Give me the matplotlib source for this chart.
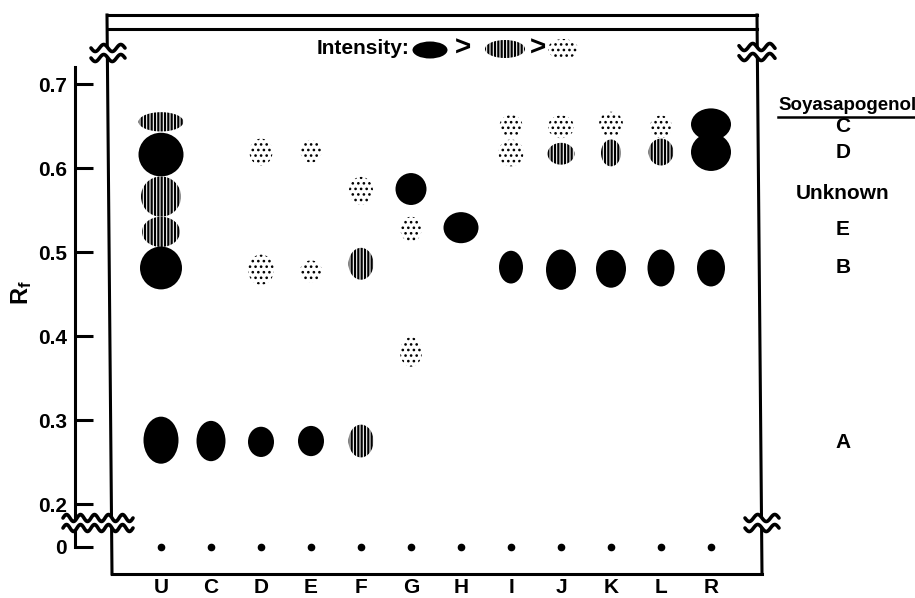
import numpy as np
import matplotlib
matplotlib.use('Agg')
import matplotlib.pyplot as plt
import matplotlib.transforms as mtransforms
from matplotlib.patches import Ellipse

plt.rcParams['font.family'] = ['Liberation Sans', 'DejaVu Sans']
plt.rcParams['font.weight'] = 'bold'
plt.rcParams['hatch.linewidth'] = 1.6
plt.rcParams['mathtext.fontset'] = 'custom'
plt.rcParams['mathtext.rm'] = 'Liberation Sans:bold'
plt.rcParams['mathtext.it'] = 'Liberation Sans:bold'

W, H = 915, 598

# lanes on the plate
lanes = ['U', 'C', 'D', 'E', 'F', 'G', 'H', 'I', 'J', 'K', 'L', 'R']

# spots: lane index, Rf, intensity (3 strong, 2 medium, 1 weak), spot size
spot_lane = [0, 0, 0, 0, 0, 0,
             1,
             2, 2, 2,
             3, 3, 3,
             4, 4, 4,
             5, 5, 5,
             6,
             7, 7, 7,
             8, 8, 8,
             9, 9, 9,
             10, 10, 10,
             11, 11, 11]
spot_rf = [0.655, 0.616, 0.566, 0.524, 0.481, 0.276,
           0.275,
           0.619, 0.479, 0.274,
           0.620, 0.477, 0.275,
           0.573, 0.486, 0.275,
           0.575, 0.527, 0.381,
           0.529,
           0.650, 0.618, 0.482,
           0.649, 0.617, 0.479,
           0.652, 0.618, 0.480,
           0.649, 0.619, 0.481,
           0.652, 0.619, 0.481]
spot_level = [2, 3, 2, 2, 3, 3,
              3,
              1, 1, 3,
              1, 1, 3,
              1, 2, 2,
              3, 1, 1,
              3,
              1, 1, 3,
              1, 2, 3,
              1, 2, 3,
              1, 2, 3,
              3, 3, 3]
spot_width = [0.90, 0.90, 0.80, 0.76, 0.84, 0.70,
              0.58,
              0.46, 0.52, 0.52,
              0.42, 0.44, 0.52,
              0.48, 0.50, 0.50,
              0.62, 0.42, 0.44,
              0.70,
              0.46, 0.50, 0.48,
              0.52, 0.54, 0.60,
              0.48, 0.40, 0.60,
              0.44, 0.50, 0.54,
              0.80, 0.80, 0.56]
spot_height = [0.023, 0.052, 0.048, 0.036, 0.051, 0.056,
               0.048,
               0.032, 0.036, 0.036,
               0.027, 0.026, 0.036,
               0.033, 0.038, 0.039,
               0.038, 0.030, 0.035,
               0.037,
               0.026, 0.032, 0.039,
               0.027, 0.026, 0.048,
               0.030, 0.032, 0.045,
               0.027, 0.032, 0.044,
               0.038, 0.045, 0.044]

# reference soyasapogenols and their Rf
std_names = ['C', 'D', 'Unknown', 'E', 'B', 'A']
std_rf = [0.649, 0.619, 0.570, 0.527, 0.481, 0.273]

rf_ticks = [0.2, 0.3, 0.4, 0.5, 0.6, 0.7]
ORIGIN = 0.149  # where Rf 0 sits below the axis break

fill_style = {3: dict(facecolor='black', hatch=None, hlw=1.6),
              2: dict(facecolor='white', hatch='|||||', hlw=1.6),
              1: dict(facecolor='white', hatch='...', hlw=1.1)}

fig = plt.figure(figsize=(W / 100, H / 100), dpi=100)
ax = fig.add_axes([110 / W, 24 / H, 650 / W, 545 / H])
pix = mtransforms.Affine2D().scale(1, -1).translate(0, H)  # top-left pixel coords


def spot(xy, w, h, lev, **kw):
    st = fill_style[lev]
    with plt.rc_context({'hatch.linewidth': st['hlw']}):
        e = Ellipse(xy, w, h, facecolor=st['facecolor'], edgecolor='black', lw=0,
                    hatch=st['hatch'], **kw)
    ax.add_patch(e)


for lane, rf, lev, w, h in zip(spot_lane, spot_rf, spot_level, spot_width, spot_height):
    spot((lane, rf), w, h, lev, zorder=3)

# sample origin
ax.plot(range(len(lanes)), [ORIGIN] * len(lanes), 'o', ms=4.5, color='black', zorder=3)

# Rf scale on the left spine
for s in ['top', 'right', 'bottom']:
    ax.spines[s].set_visible(False)
ax.spines['left'].set_position(('outward', 25))
ax.spines['left'].set_bounds(ORIGIN, 0.72)
ax.spines['left'].set_linewidth(2.2)
ax.set_yticks([ORIGIN] + rf_ticks, ['0'] + ['%.1f' % t for t in rf_ticks])
ax.tick_params(axis='y', direction='in', length=13, width=2.2, pad=6, labelsize=15)
ax.set_xticks(range(len(lanes)), lanes)
ax.tick_params(axis='x', length=0, pad=3, labelsize=15)
fig.text(22, 293, r'$\mathrm{R_f}$', fontsize=17, rotation=90, ha='center', va='center',
         transform=pix)

# plate outline
lk = dict(color='black', lw=2.2, transform=pix, clip_on=False, zorder=4)
ax.plot([107, 112], [15, 574], **lk)
ax.plot([107, 757], [15, 15], **lk)
ax.plot([109, 757], [29, 29], **lk)
ax.plot([757, 762], [15, 574], **lk)
ax.plot([112, 762], [574, 574], **lk)


def axis_break(cx, cy, w, period):
    xs = np.linspace(cx - w / 2, cx + w / 2, 80)
    wave = 3.5 * np.sin(2 * np.pi * (xs - cx) / period)
    ax.fill(np.r_[xs, xs[::-1]], np.r_[cy - 5 + wave, (cy + 5 + wave)[::-1]],
            color='white', transform=pix, clip_on=False, zorder=5)
    for off in (-5, 5):
        ax.plot(xs, cy + off + wave, color='black', lw=2.6, transform=pix,
                clip_on=False, zorder=6, solid_capstyle='round')


axis_break(108, 53, 34, 17)
axis_break(757, 52, 36, 17)
axis_break(98, 523, 70, 14)
axis_break(762, 523, 34, 17)

# intensity key
ax.text(410, 48, 'Intensity:', ha='right', va='center', fontsize=15, transform=pix)
spot((430, 50), 35, 17, 3, transform=pix)
ax.text(463, 49, '>', ha='center', va='center', fontsize=20, transform=pix)
spot((505, 49), 40, 18, 2, transform=pix)
ax.text(538, 49, '>', ha='center', va='center', fontsize=20, transform=pix)
spot((563, 49), 30, 20, 1, transform=pix)

# standards on the right
ax.text(778, 106, 'Soyasapogenol', ha='left', va='center', fontsize=13.5, transform=pix)
ax.plot([778, 915], [117, 117], color='black', lw=1.8, transform=pix, clip_on=False)
for name, rf in zip(std_names, std_rf):
    ax.text(13.64, rf, name, ha='center', va='center', fontsize=15, clip_on=False)

ax.set_xlim(-1.02, 11.98)
ax.set_ylim(0.1167, 0.7655)

fig.savefig('out.png', dpi=100)
